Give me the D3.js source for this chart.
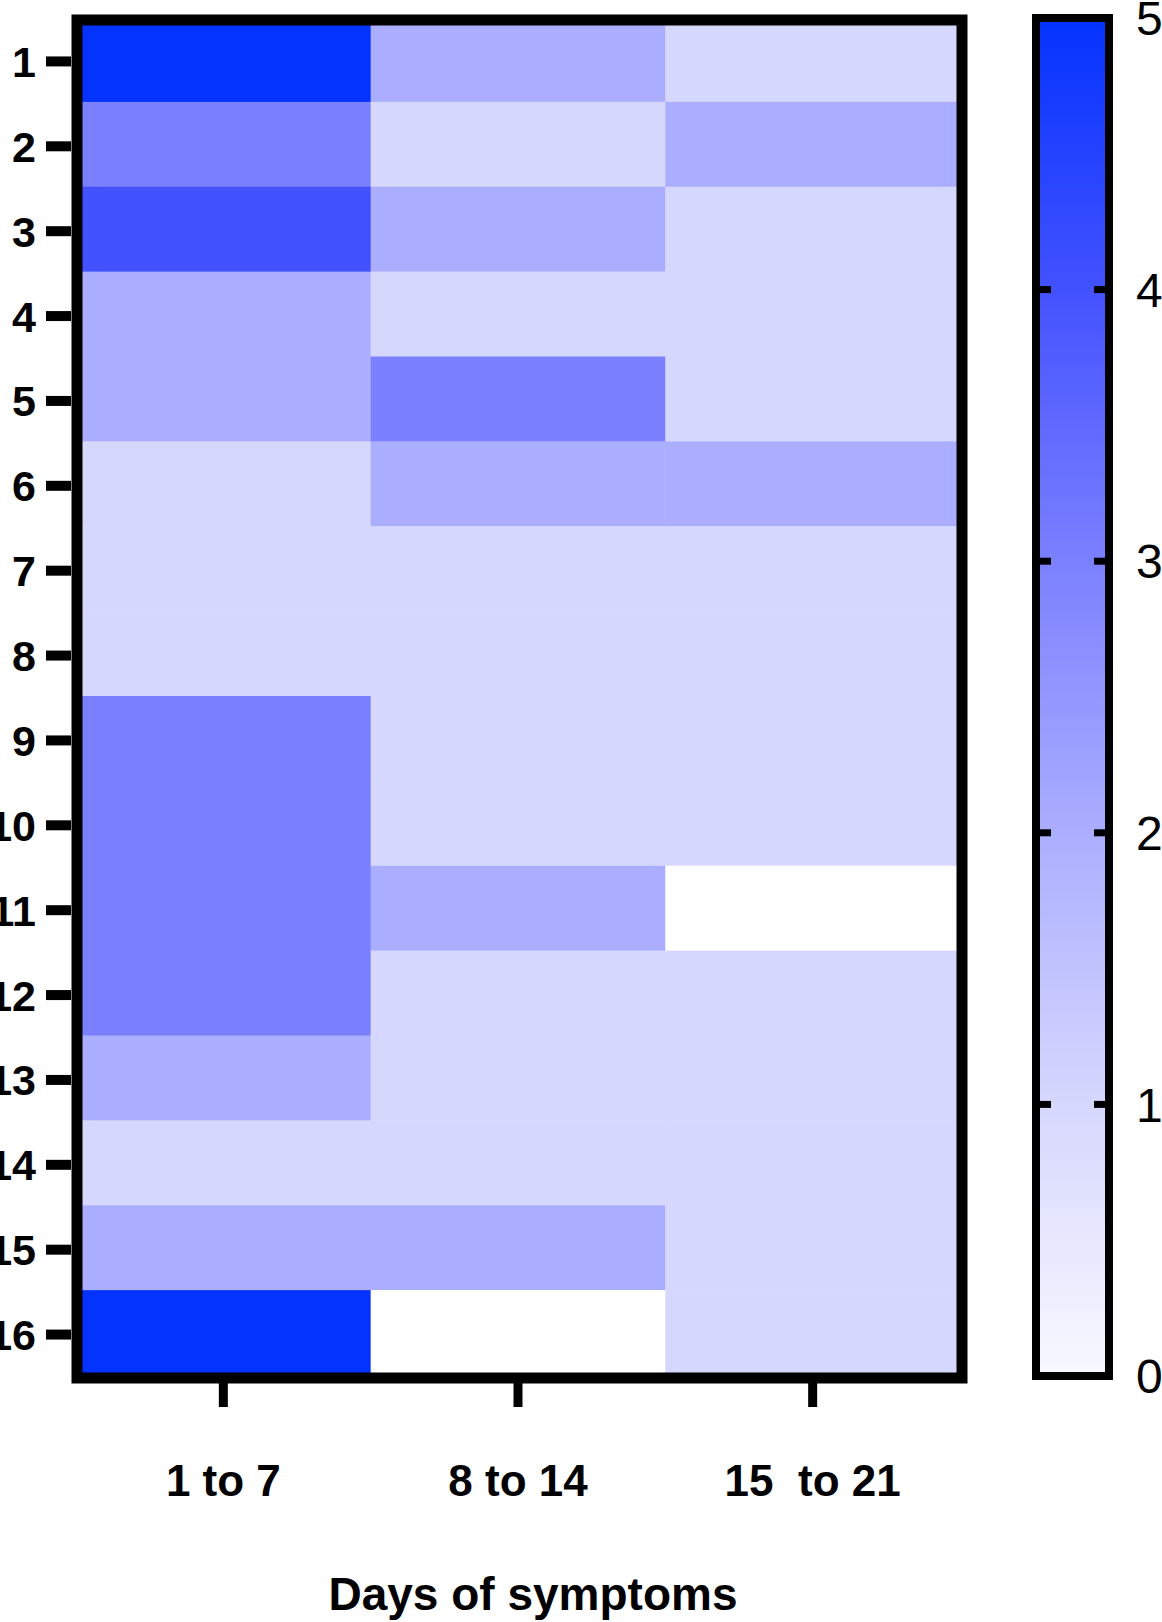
<!DOCTYPE html>
<html>
<head>
<meta charset="utf-8">
<script src="https://cdnjs.cloudflare.com/ajax/libs/d3/7.8.5/d3.min.js"></script>
<style>
    body { margin: 0; background: white; }
    svg { display: block; }
    text { font-family: Arial, 'Liberation Sans', sans-serif; fill: black; }
</style>
</head>
<body>
<div id="chart"></div>
<script>
var rows = ['1', '2', '3', '4', '5', '6', '7', '8', '9', '10', '11', '12', '13', '14', '15', '16']
var periods = ['1 to 7', '8 to 14', '15  to 21']

// one value per row, per period
var days1to7 = [5, 3, 4, 2, 2, 1, 1, 1, 3, 3, 3, 3, 2, 1, 2, 5]
var days8to14 = [2, 1, 2, 1, 3, 2, 1, 1, 1, 1, 2, 1, 1, 1, 2, 0]
var days15to21 = [1, 2, 1, 1, 1, 2, 1, 1, 1, 1, 0, 1, 1, 1, 1, 1]

var legendTicks = [0, 1, 2, 3, 4, 5]

var width = 1162
var height = 1622

var grid = { left: 76, right: 960, top: 17, bottom: 1375 }

var svg = d3.select('#chart').append('svg')
    .attr('width', width)
    .attr('height', height)

svg.append('rect')
    .attr('width', '100%')
    .attr('height', '100%')
    .attr('fill', 'white')

var cells = []
var series = [days1to7, days8to14, days15to21]
series.forEach(function (values, i) {
    values.forEach(function (v, j) {
        cells.push({ period: periods[i], row: rows[j], value: v })
    })
})

var x = d3.scaleBand().domain(periods).range([grid.left, grid.right])
var y = d3.scaleBand().domain(rows).range([grid.top, grid.bottom])

// prism-like white -> blue ramp
var color = d3.scaleLinear()
    .domain([0, 1, 2, 3, 4, 5])
    .range(['#ffffff', '#d6d7fd', '#abaeff', '#7b80ff', '#4352ff', '#0433ff'])

svg.append('g')
    .selectAll('rect')
    .data(cells)
    .join('rect')
    .attr('x', function (d) { return x(d.period) })
    .attr('y', function (d) { return y(d.row) })
    .attr('width', x.bandwidth() + 0.5)
    .attr('height', y.bandwidth() + 0.5)
    .attr('fill', function (d) { return color(d.value) })

// frame round the heatmap
svg.append('rect')
    .attr('x', 77)
    .attr('y', 20)
    .attr('width', 885)
    .attr('height', 1358)
    .attr('fill', 'none')
    .attr('stroke', 'black')
    .attr('stroke-width', 11)

// y axis
var yAxis = svg.append('g').attr('transform', 'translate(71, 2)')
    .call(d3.axisLeft(y).tickSize(25).tickPadding(10))
yAxis.select('.domain').remove()
yAxis.selectAll('.tick line').attr('stroke', 'black').attr('stroke-width', 10)
yAxis.selectAll('.tick text')
    .attr('font-size', 43)
    .attr('font-weight', 'bold')
    .attr('font-family', null)
    .attr('dy', '0.36em')

// x axis
var xAxis = svg.append('g').attr('transform', 'translate(0, 1383)')
    .call(d3.axisBottom(x).tickSize(24).tickPadding(58))
xAxis.select('.domain').remove()
xAxis.selectAll('.tick line').attr('stroke', 'black').attr('stroke-width', 9)
xAxis.selectAll('.tick text')
    .attr('font-size', 44)
    .attr('font-weight', 'bold')
    .attr('font-family', null)
    .style('white-space', 'pre')

svg.append('text')
    .attr('x', 533)
    .attr('y', 1610)
    .attr('text-anchor', 'middle')
    .attr('font-size', 46)
    .attr('font-weight', 'bold')
    .text('Days of symptoms')

// colour bar
var legendY = d3.scaleLinear().domain([0, 5]).range([1376, 18])

var gradient = svg.append('defs').append('linearGradient')
    .attr('id', 'ramp')
    .attr('x1', 0).attr('y1', 1).attr('x2', 0).attr('y2', 0)
gradient.selectAll('stop')
    .data(color.domain())
    .join('stop')
    .attr('offset', function (d) { return d / 5 })
    .attr('stop-color', function (d) { return d === 0 ? '#f8f8ff' : color(d) })

svg.append('rect')
    .attr('x', 1036)
    .attr('y', legendY(5))
    .attr('width', 73)
    .attr('height', legendY(0) - legendY(5))
    .attr('fill', 'url(#ramp)')
    .attr('stroke', 'black')
    .attr('stroke-width', 8)

var inner = legendTicks.filter(function (d) { return d > 0 && d < 5 })
var legendMarks = svg.append('g')
legendMarks.selectAll('line.left')
    .data(inner)
    .join('line')
    .attr('class', 'left')
    .attr('x1', 1036).attr('x2', 1051)
    .attr('y1', legendY).attr('y2', legendY)
legendMarks.selectAll('line.right')
    .data(inner)
    .join('line')
    .attr('class', 'right')
    .attr('x1', 1094).attr('x2', 1109)
    .attr('y1', legendY).attr('y2', legendY)
legendMarks.selectAll('line')
    .attr('stroke', 'black')
    .attr('stroke-width', 7)

svg.append('g')
    .selectAll('text')
    .data(legendTicks)
    .join('text')
    .attr('x', 1136)
    .attr('y', function (d) { return legendY(d) })
    .attr('dy', '0.36em')
    .attr('font-size', 48)
    .text(function (d) { return d })
</script>
</body>
</html>
